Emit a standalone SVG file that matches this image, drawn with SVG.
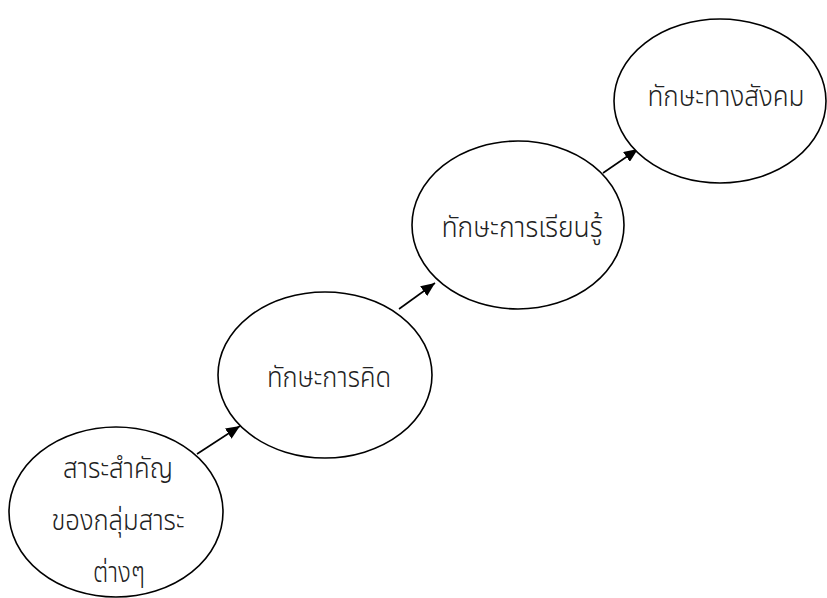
<svg xmlns="http://www.w3.org/2000/svg" width="827" height="598" viewBox="0 0 827 598">
  <defs>
    <marker id="arrowhead" viewBox="0 0 14 12" refX="14" refY="6" markerWidth="14" markerHeight="12" markerUnits="userSpaceOnUse" orient="auto">
      <path d="M0,0 L14,6 L0,12 Z" fill="#000"/>
    </marker>
    <style>
      .node ellipse { fill: #fff; stroke: #000; stroke-width: 1.6; }
      .node text { font-family: "Noto Sans Thai UI", "Noto Sans Thai", "Noto Sans", "DejaVu Sans", sans-serif; font-size: 30px; font-weight: 300; fill: #222; text-anchor: middle; }
      .link { stroke: #000; stroke-width: 1.6; fill: none; }
    </style>
  </defs>
  <rect width="827" height="598" fill="#fff"/>

  <!-- connectors between the four skill nodes -->
  <g id="connectors">
    <line class="link" x1="197" y1="454" x2="240" y2="426" marker-end="url(#arrowhead)"/>
    <line class="link" x1="399" y1="309" x2="435" y2="283" marker-end="url(#arrowhead)"/>
    <line class="link" x1="603" y1="173" x2="638" y2="149" marker-end="url(#arrowhead)"/>
  </g>

  <g id="node-core" class="node">
    <ellipse cx="116" cy="512" rx="107" ry="85"/>
    <text x="118" y="478" textLength="110" lengthAdjust="spacingAndGlyphs">สาระสำคัญ</text>
    <text x="118" y="530" textLength="133" lengthAdjust="spacingAndGlyphs">ของกลุ่มสาระ</text>
    <text x="119" y="582" textLength="52" lengthAdjust="spacingAndGlyphs">ต่างๆ</text>
  </g>

  <g id="node-thinking" class="node">
    <ellipse cx="325" cy="375" rx="107" ry="83"/>
    <text x="329" y="387" textLength="124" lengthAdjust="spacingAndGlyphs">ทักษะการคิด</text>
  </g>

  <g id="node-learning" class="node">
    <ellipse cx="518" cy="225" rx="106" ry="84"/>
    <text x="522" y="237" textLength="161" lengthAdjust="spacingAndGlyphs">ทักษะการเรียนรู้</text>
  </g>

  <g id="node-social" class="node">
    <ellipse cx="720" cy="101" rx="106" ry="82"/>
    <text x="726" y="106" textLength="157" lengthAdjust="spacingAndGlyphs">ทักษะทางสังคม</text>
  </g>
</svg>
